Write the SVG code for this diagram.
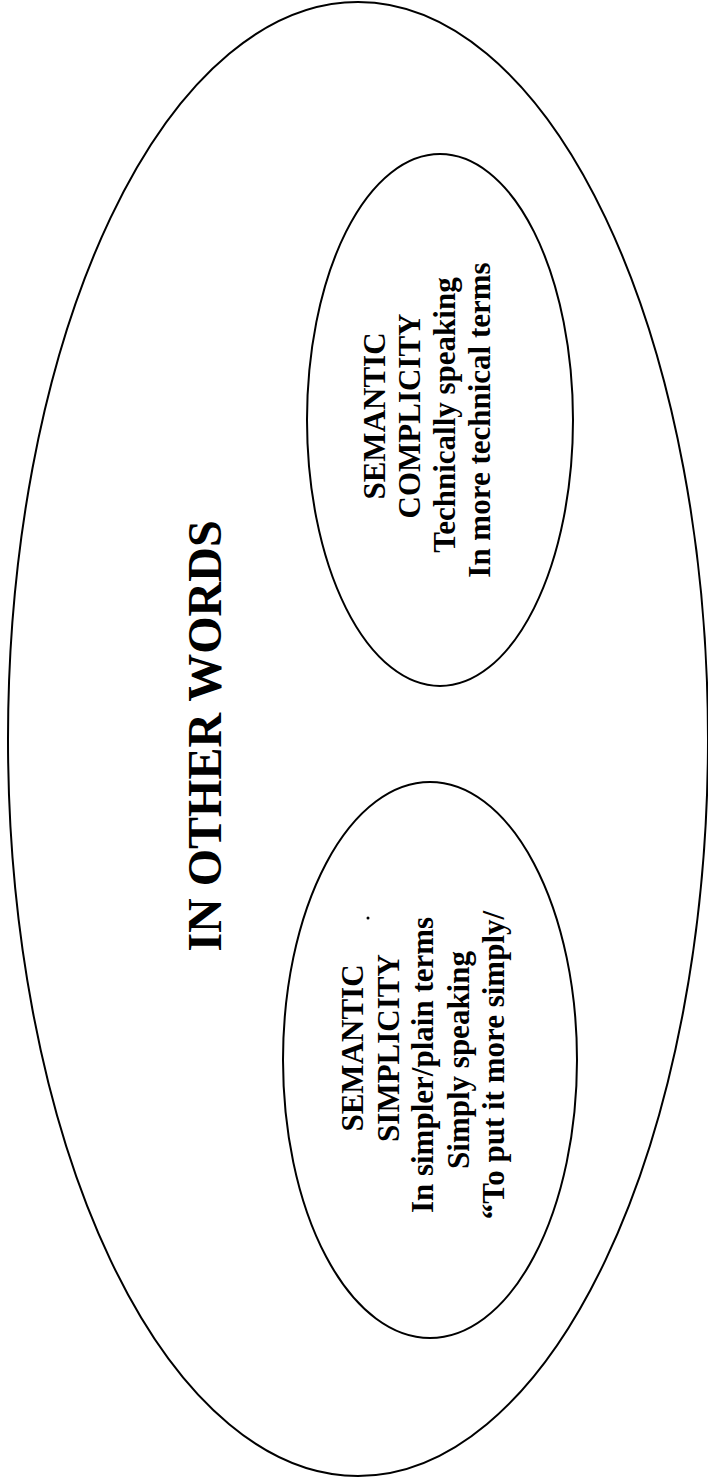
<svg xmlns="http://www.w3.org/2000/svg" width="708" height="1483" viewBox="0 0 708 1483">
<style>
.shape{fill:none;stroke:#000;stroke-width:2}
.t{font-family:"Liberation Serif","Times New Roman",serif;font-weight:bold;fill:#000;text-anchor:middle}
.title{font-size:48px}
.lbl{font-size:31px}
</style>
<rect width="708" height="1483" fill="#fff"/>
<g id="outer">
<ellipse class="shape" cx="358" cy="739" rx="350" ry="737"/>
<text class="t title" transform="translate(221,736) rotate(-90)">IN OTHER WORDS</text>
</g>
<g id="simplicity">
<ellipse class="shape" cx="430" cy="1060" rx="147" ry="278"/>
<text class="t lbl" transform="translate(363,1048) rotate(-90)">SEMANTIC</text>
<text class="t lbl" transform="translate(399,1048) rotate(-90)">SIMPLICITY</text>
<text class="t lbl" transform="translate(433,1065) rotate(-90)">In simpler/plain terms</text>
<text class="t lbl" transform="translate(469,1060) rotate(-90)">Simply speaking</text>
<text class="t lbl" transform="translate(504,1065) rotate(-90)">“To put it more simply/</text>
<circle cx="368" cy="918" r="1.5" fill="#000"/>
</g>
<g id="complicity">
<ellipse class="shape" cx="440" cy="420" rx="133" ry="266"/>
<text class="t lbl" transform="translate(385,416) rotate(-90)">SEMANTIC</text>
<text class="t lbl" transform="translate(420,416) rotate(-90)">COMPLICITY</text>
<text class="t lbl" transform="translate(455,415) rotate(-90)">Technically speaking</text>
<text class="t lbl" transform="translate(490,420) rotate(-90)">In more technical terms</text>
</g>
<g id="connectors"></g>
</svg>
